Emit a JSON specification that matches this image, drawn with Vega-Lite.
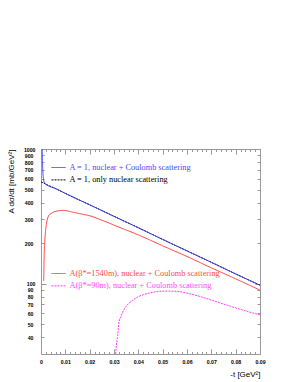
{
  "$schema": "https://vega.github.io/schema/vega-lite/v6.json",
  "width": 219,
  "height": 205,
  "autosize": {"type": "none"},
  "padding": {"left": 41, "top": 149, "right": 35, "bottom": 28},
  "background": "white",
  "data": {"values": [
    {"s": "A = 1, only nuclear scattering", "t": 0, "v": 570},
    {"s": "A = 1, only nuclear scattering", "t": 0.002, "v": 548},
    {"s": "A = 1, only nuclear scattering", "t": 0.005, "v": 517},
    {"s": "A = 1, only nuclear scattering", "t": 0.01, "v": 468},
    {"s": "A = 1, only nuclear scattering", "t": 0.015, "v": 424},
    {"s": "A = 1, only nuclear scattering", "t": 0.02, "v": 385},
    {"s": "A = 1, only nuclear scattering", "t": 0.03, "v": 316},
    {"s": "A = 1, only nuclear scattering", "t": 0.04, "v": 260},
    {"s": "A = 1, only nuclear scattering", "t": 0.05, "v": 213},
    {"s": "A = 1, only nuclear scattering", "t": 0.06, "v": 175},
    {"s": "A = 1, only nuclear scattering", "t": 0.07, "v": 144},
    {"s": "A = 1, only nuclear scattering", "t": 0.08, "v": 118},
    {"s": "A = 1, only nuclear scattering", "t": 0.09, "v": 97.3},
    {"s": "A = 1, nuclear + Coulomb scattering", "t": 0.0004, "v": 1500},
    {"s": "A = 1, nuclear + Coulomb scattering", "t": 0.0005, "v": 1000},
    {"s": "A = 1, nuclear + Coulomb scattering", "t": 0.0006, "v": 820},
    {"s": "A = 1, nuclear + Coulomb scattering", "t": 0.0007, "v": 720},
    {"s": "A = 1, nuclear + Coulomb scattering", "t": 0.0008, "v": 660},
    {"s": "A = 1, nuclear + Coulomb scattering", "t": 0.001, "v": 600},
    {"s": "A = 1, nuclear + Coulomb scattering", "t": 0.0013, "v": 568},
    {"s": "A = 1, nuclear + Coulomb scattering", "t": 0.0018, "v": 548},
    {"s": "A = 1, nuclear + Coulomb scattering", "t": 0.0025, "v": 538},
    {"s": "A = 1, nuclear + Coulomb scattering", "t": 0.003, "v": 532},
    {"s": "A = 1, nuclear + Coulomb scattering", "t": 0.004, "v": 523},
    {"s": "A = 1, nuclear + Coulomb scattering", "t": 0.005, "v": 517},
    {"s": "A = 1, nuclear + Coulomb scattering", "t": 0.01, "v": 468},
    {"s": "A = 1, nuclear + Coulomb scattering", "t": 0.015, "v": 424},
    {"s": "A = 1, nuclear + Coulomb scattering", "t": 0.02, "v": 385},
    {"s": "A = 1, nuclear + Coulomb scattering", "t": 0.03, "v": 316},
    {"s": "A = 1, nuclear + Coulomb scattering", "t": 0.04, "v": 260},
    {"s": "A = 1, nuclear + Coulomb scattering", "t": 0.05, "v": 213},
    {"s": "A = 1, nuclear + Coulomb scattering", "t": 0.06, "v": 175},
    {"s": "A = 1, nuclear + Coulomb scattering", "t": 0.07, "v": 144},
    {"s": "A = 1, nuclear + Coulomb scattering", "t": 0.08, "v": 118},
    {"s": "A = 1, nuclear + Coulomb scattering", "t": 0.09, "v": 97.3},
    {"s": "A(β*=1540m), nuclear + Coulomb scattering", "t": 0.0011, "v": 105},
    {"s": "A(β*=1540m), nuclear + Coulomb scattering", "t": 0.0013, "v": 160},
    {"s": "A(β*=1540m), nuclear + Coulomb scattering", "t": 0.0015, "v": 200},
    {"s": "A(β*=1540m), nuclear + Coulomb scattering", "t": 0.0018, "v": 239},
    {"s": "A(β*=1540m), nuclear + Coulomb scattering", "t": 0.0022, "v": 275},
    {"s": "A(β*=1540m), nuclear + Coulomb scattering", "t": 0.0031, "v": 318},
    {"s": "A(β*=1540m), nuclear + Coulomb scattering", "t": 0.0042, "v": 332},
    {"s": "A(β*=1540m), nuclear + Coulomb scattering", "t": 0.0052, "v": 340},
    {"s": "A(β*=1540m), nuclear + Coulomb scattering", "t": 0.007, "v": 347},
    {"s": "A(β*=1540m), nuclear + Coulomb scattering", "t": 0.0093, "v": 350},
    {"s": "A(β*=1540m), nuclear + Coulomb scattering", "t": 0.012, "v": 343},
    {"s": "A(β*=1540m), nuclear + Coulomb scattering", "t": 0.0162, "v": 330},
    {"s": "A(β*=1540m), nuclear + Coulomb scattering", "t": 0.02, "v": 319},
    {"s": "A(β*=1540m), nuclear + Coulomb scattering", "t": 0.025, "v": 296},
    {"s": "A(β*=1540m), nuclear + Coulomb scattering", "t": 0.03, "v": 272},
    {"s": "A(β*=1540m), nuclear + Coulomb scattering", "t": 0.04, "v": 230},
    {"s": "A(β*=1540m), nuclear + Coulomb scattering", "t": 0.05, "v": 191},
    {"s": "A(β*=1540m), nuclear + Coulomb scattering", "t": 0.06, "v": 159},
    {"s": "A(β*=1540m), nuclear + Coulomb scattering", "t": 0.07, "v": 131},
    {"s": "A(β*=1540m), nuclear + Coulomb scattering", "t": 0.08, "v": 108.5},
    {"s": "A(β*=1540m), nuclear + Coulomb scattering", "t": 0.09, "v": 89.5},
    {"s": "A(β*=90m), nuclear + Coulomb scattering", "t": 0.0307, "v": 30},
    {"s": "A(β*=90m), nuclear + Coulomb scattering", "t": 0.031, "v": 35},
    {"s": "A(β*=90m), nuclear + Coulomb scattering", "t": 0.0315, "v": 41},
    {"s": "A(β*=90m), nuclear + Coulomb scattering", "t": 0.032, "v": 51},
    {"s": "A(β*=90m), nuclear + Coulomb scattering", "t": 0.033, "v": 58},
    {"s": "A(β*=90m), nuclear + Coulomb scattering", "t": 0.0345, "v": 66},
    {"s": "A(β*=90m), nuclear + Coulomb scattering", "t": 0.036, "v": 71},
    {"s": "A(β*=90m), nuclear + Coulomb scattering", "t": 0.038, "v": 76},
    {"s": "A(β*=90m), nuclear + Coulomb scattering", "t": 0.04, "v": 80},
    {"s": "A(β*=90m), nuclear + Coulomb scattering", "t": 0.042, "v": 82.6},
    {"s": "A(β*=90m), nuclear + Coulomb scattering", "t": 0.045, "v": 85.5},
    {"s": "A(β*=90m), nuclear + Coulomb scattering", "t": 0.048, "v": 87.4},
    {"s": "A(β*=90m), nuclear + Coulomb scattering", "t": 0.052, "v": 88},
    {"s": "A(β*=90m), nuclear + Coulomb scattering", "t": 0.056, "v": 87.5},
    {"s": "A(β*=90m), nuclear + Coulomb scattering", "t": 0.06, "v": 85},
    {"s": "A(β*=90m), nuclear + Coulomb scattering", "t": 0.065, "v": 80.5},
    {"s": "A(β*=90m), nuclear + Coulomb scattering", "t": 0.07, "v": 75.5},
    {"s": "A(β*=90m), nuclear + Coulomb scattering", "t": 0.075, "v": 70.5},
    {"s": "A(β*=90m), nuclear + Coulomb scattering", "t": 0.08, "v": 66},
    {"s": "A(β*=90m), nuclear + Coulomb scattering", "t": 0.085, "v": 62},
    {"s": "A(β*=90m), nuclear + Coulomb scattering", "t": 0.09, "v": 58.5}
  ]},
  "config": {
    "view": {"stroke": null},
    "axis": {
      "grid": false,
      "domainColor": "#999999",
      "tickColor": "#999999",
      "labelFont": "Liberation Sans",
      "labelFontWeight": "bold",
      "labelFontSize": 5.2,
      "labelColor": "black",
      "titleFont": "Liberation Sans",
      "titleFontWeight": "normal",
      "titleFontSize": 8,
      "titleColor": "black"
    },
    "legend": {
      "labelFont": "Liberation Serif",
      "labelFontSize": 8.3,
      "labelLimit": 400,
      "symbolType": "stroke",
      "symbolSize": 196,
      "symbolStrokeWidth": 1,
      "labelOffset": 3.5,
      "rowPadding": 1.4,
      "padding": 0
    }
  },
  "resolve": {
    "scale": {"color": "independent", "strokeDash": "independent"},
    "axis": {"x": "independent", "y": "independent"}
  },
  "layer": [
    {
      "transform": [{"filter": {"field": "s", "oneOf": ["A = 1, only nuclear scattering", "A = 1, nuclear + Coulomb scattering"]}}],
      "mark": {"type": "line", "clip": true, "strokeWidth": 1, "interpolate": "monotone"},
      "encoding": {
        "x": {
          "field": "t", "type": "quantitative",
          "scale": {"domain": [0, 0.09], "nice": false, "zero": false},
          "axis": {
            "orient": "bottom",
            "title": "-t [GeV²]",
            "titleAnchor": "end",
            "titleAlign": "right",
            "titleX": 219,
            "titleY": 20,
            "titleBaseline": "middle",
            "values": [0, 0.002, 0.004, 0.006, 0.008, 0.01, 0.012, 0.014, 0.016, 0.018, 0.02, 0.022, 0.024, 0.026, 0.028, 0.03, 0.032, 0.034, 0.036, 0.038, 0.04, 0.042, 0.044, 0.046, 0.048, 0.05, 0.052, 0.054, 0.056, 0.058, 0.06, 0.062, 0.064, 0.066, 0.068, 0.07, 0.072, 0.074, 0.076, 0.078, 0.08, 0.082, 0.084, 0.086, 0.088, 0.09],
            "labelExpr": "abs(datum.value*100 - round(datum.value*100)) < 1e-6 ? format(datum.value, '.2~f') : ''",
            "tickSize": {"condition": {"test": "abs(datum.value*100 - round(datum.value*100)) < 1e-6", "value": -5}, "value": -2.5},
            "labelPadding": 10,
            "labelFlush": false,
            "labelOverlap": false
          }
        },
        "y": {
          "field": "v", "type": "quantitative",
          "scale": {"type": "log", "domain": [30, 1000], "nice": false},
          "axis": {
            "orient": "left",
            "title": "A dσ/dt [mb/GeV²]",
            "titleAnchor": "end",
            "titleAngle": -90,
            "titleAlign": "right",
            "titleBaseline": "middle",
            "titleX": -30,
            "titleY": 0,
            "values": [40, 50, 60, 70, 80, 90, 100, 200, 300, 400, 500, 600, 700, 800, 900, 1000],
            "format": "d",
            "tickSize": {"condition": {"test": "datum.value == 100 || datum.value == 1000", "value": -5}, "value": -3},
            "labelPadding": 11,
            "labelOverlap": false,
            "labelFlush": false
          }
        },
        "color": {
          "field": "s", "type": "nominal",
          "scale": {"domain": ["A = 1, nuclear + Coulomb scattering", "A = 1, only nuclear scattering"], "range": ["#3a3aff", "#000000"]},
          "legend": {
            "title": null, "orient": "none", "legendX": 10, "legendY": 11,
            "encode": {"labels": {"update": {"fill": {"signal": "datum.label == 'A = 1, nuclear + Coulomb scattering' ? '#4a4aff' : '#000000'"}}}}
          }
        },
        "strokeDash": {
          "field": "s", "type": "nominal",
          "scale": {"domain": ["A = 1, nuclear + Coulomb scattering", "A = 1, only nuclear scattering"], "range": [[1, 0], [2, 1]]},
          "legend": {
            "title": null, "orient": "none", "legendX": 10, "legendY": 11,
            "encode": {"labels": {"update": {"fill": {"signal": "datum.label == 'A = 1, nuclear + Coulomb scattering' ? '#4a4aff' : '#000000'"}}}}
          }
        }
      }
    },
    {
      "transform": [{"filter": {"field": "s", "oneOf": ["A(β*=1540m), nuclear + Coulomb scattering", "A(β*=90m), nuclear + Coulomb scattering"]}}],
      "mark": {"type": "line", "clip": true, "strokeWidth": 1, "interpolate": "monotone"},
      "encoding": {
        "x": {
          "field": "t", "type": "quantitative",
          "axis": {
            "orient": "top", "title": null, "labels": false,
            "values": [0, 0.002, 0.004, 0.006, 0.008, 0.01, 0.012, 0.014, 0.016, 0.018, 0.02, 0.022, 0.024, 0.026, 0.028, 0.03, 0.032, 0.034, 0.036, 0.038, 0.04, 0.042, 0.044, 0.046, 0.048, 0.05, 0.052, 0.054, 0.056, 0.058, 0.06, 0.062, 0.064, 0.066, 0.068, 0.07, 0.072, 0.074, 0.076, 0.078, 0.08, 0.082, 0.084, 0.086, 0.088, 0.09],
            "tickSize": {"condition": {"test": "abs(datum.value*100 - round(datum.value*100)) < 1e-6", "value": -5}, "value": -2.5}
          }
        },
        "y": {
          "field": "v", "type": "quantitative",
          "axis": {
            "orient": "right", "title": null, "labels": false,
            "values": [40, 50, 60, 70, 80, 90, 100, 200, 300, 400, 500, 600, 700, 800, 900, 1000],
            "tickSize": {"condition": {"test": "datum.value == 100 || datum.value == 1000", "value": -5}, "value": -3}
          }
        },
        "color": {
          "field": "s", "type": "nominal",
          "scale": {"domain": ["A(β*=1540m), nuclear + Coulomb scattering", "A(β*=90m), nuclear + Coulomb scattering"], "range": ["#ff3a3a", "#ff3aff"]},
          "legend": {
            "title": null, "orient": "none", "legendX": 10, "legendY": 117,
            "encode": {"labels": {"update": {"fill": {"signal": "datum.label == 'A(β*=1540m), nuclear + Coulomb scattering' ? '#ff4a4a' : '#ff4aff'"}}}}
          }
        },
        "strokeDash": {
          "field": "s", "type": "nominal",
          "scale": {"domain": ["A(β*=1540m), nuclear + Coulomb scattering", "A(β*=90m), nuclear + Coulomb scattering"], "range": [[1, 0], [2, 1]]},
          "legend": {
            "title": null, "orient": "none", "legendX": 10, "legendY": 117,
            "encode": {"labels": {"update": {"fill": {"signal": "datum.label == 'A(β*=1540m), nuclear + Coulomb scattering' ? '#ff4a4a' : '#ff4aff'"}}}}
          }
        }
      }
    }
  ]
}
